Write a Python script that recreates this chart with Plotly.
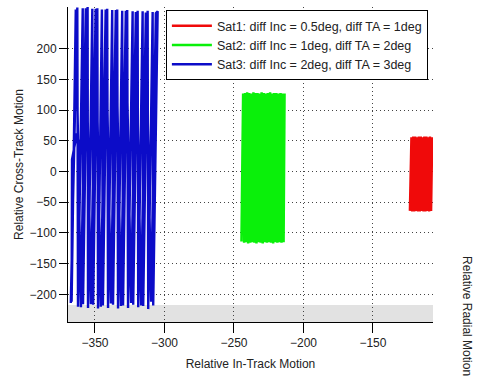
import plotly.graph_objects as go

# ---------------- data ----------------
x_ticks = [-350, -300, -250, -200, -150]
y_ticks = [-200, -150, -100, -50, 0, 50, 100, 150, 200]

names = ["Sat1: diff Inc = 0.5deg, diff TA = 1deg",
         "Sat2: diff Inc = 1deg, diff TA = 2deg",
         "Sat3: diff Inc = 2deg, diff TA = 3deg"]
colors = ["#f00a0a", "#0af00a", "#0c0cc8"]

# Sat3 (blue): sweep (trough -> peak)
blue_trough_x = [-367.4, -362.2, -358.6, -355.0, -351.3, -347.8, -344.3, -340.6, -337.0, -333.4, -329.8, -326.2, -322.5, -318.9, -315.3, -311.7, -308.1]
blue_trough_y = [-214, -220, -216, -222, -217, -223, -218, -222, -217, -223, -218, -222, -217, -221, -219, -224, -218]
blue_peak_x = [-362.7, -358.8, -355.3, -351.9, -348.3, -345.0, -341.2, -337.6, -334.0, -330.4, -326.8, -322.9, -319.3, -315.7, -312.1, -308.5, -304.9]
blue_peak_y = [267, 266, 268, 265, 266, 264, 265, 263, 264, 262, 263, 261, 262, 261, 262, 260, 261]

# return leg (right -> left)
blue_ret_peak_x = [-306.2, -313.4, -320.6, -327.8, -335.0, -342.3, -349.5, -356.6, -363.8]
blue_ret_peak_y = [258, 259, 260, 262, 263, 264, 265, 266, 264]
blue_ret_trough_x = [-309.6, -316.8, -324.0, -331.3, -338.5, -345.8, -352.9, -360.1, -366.8]
blue_ret_trough_y = [-212, -218, -214, -219, -215, -220, -216, -221, -212]

# small-amplitude knot near y ~ 20..65 (left -> right)
blue_knot_x = [-366.5, -363.0, -360.0, -357.2, -354.0, -350.5, -347.0, -343.6, -340.2, -336.8, -333.2, -329.8]
blue_knot_y = [20, 62, 28, 58, 32, 60, 34, 56, 36, 58, 34, 52]

# Sat2 (green)
green_peak_x = [-243.4, -242.0, -240.5, -239.1, -237.6, -236.0, -234.6, -233.1, -231.5, -230.1, -228.6, -227.1, -225.6, -224.0, -222.6, -221.1, -219.6, -218.1, -216.5, -215.1, -213.6]
green_peak_y = [127, 128, 129, 128, 127, 129, 128, 128, 127, 129, 128, 127, 128, 129, 127, 128, 128, 127, 128, 127, 127]
green_trough_x = [-244.6, -242.7, -241.3, -239.8, -238.3, -236.8, -235.3, -233.8, -232.3, -230.8, -229.3, -227.8, -226.3, -224.8, -223.3, -221.8, -220.3, -218.8, -217.3, -215.8, -214.3]
green_trough_y = [-114, -116, -115, -117, -116, -115, -116, -117, -115, -116, -117, -115, -116, -115, -116, -117, -115, -116, -115, -116, -115]

# Sat1 (red)
red_peak_x = [-122.3, -121.0, -119.6, -118.3, -117.0, -115.6, -114.3, -113.0, -111.6, -110.3, -109.0, -107.4]
red_peak_y = [56, 57, 57, 56, 57, 57, 56, 57, 57, 56, 57, 56]
red_trough_x = [-123.4, -121.7, -120.3, -119.0, -117.6, -116.3, -115.0, -113.6, -112.3, -111.0, -109.6, -108.2]
red_trough_y = [-64, -65, -65, -64, -65, -65, -64, -65, -65, -64, -65, -64]


def interleave(ax, ay, bx, by):
    xs, ys = [], []
    for a1, a2, b1, b2 in zip(ax, ay, bx, by):
        xs += [a1, b1]
        ys += [a2, b2]
    return xs, ys


bx1, by1 = interleave(blue_trough_x, blue_trough_y, blue_peak_x, blue_peak_y)
bx2, by2 = interleave(blue_ret_peak_x, blue_ret_peak_y, blue_ret_trough_x, blue_ret_trough_y)
blue_x = bx1 + bx2 + blue_knot_x
blue_y = by1 + by2 + blue_knot_y

gx, gy = interleave(green_trough_x, green_trough_y, green_peak_x, green_peak_y)
rx, ry = interleave(red_trough_x, red_trough_y, red_peak_x, red_peak_y)

# ---------------- figure ----------------
fig = go.Figure()
fig.add_trace(go.Scatter(x=rx, y=ry, mode="lines", name=names[0],
                         line=dict(color=colors[0], width=2.5)))
fig.add_trace(go.Scatter(x=gx, y=gy, mode="lines", name=names[1],
                         line=dict(color=colors[1], width=2.5)))
fig.add_trace(go.Scatter(x=blue_x, y=blue_y, mode="lines", name=names[2],
                         line=dict(color=colors[2], width=2.4)))

font = "Liberation Sans, Arial, sans-serif"
grid = dict(showgrid=True, gridcolor="#444444", griddash="1px,3px", gridwidth=1)
fig.update_layout(
    width=478, height=381,
    margin=dict(l=68, r=45, t=7, b=59),
    paper_bgcolor="white", plot_bgcolor="white",
    font=dict(family=font, size=12, color="#222222"),
    showlegend=True,
    legend=dict(x=0.986, y=0.990, xanchor="right", yanchor="top",
                bgcolor="white", bordercolor="black", borderwidth=1,
                font=dict(size=12.5, color="#222222"),
                itemwidth=40, tracegroupgap=0),
    xaxis=dict(range=[-369.4, -106.8], tickvals=x_ticks, **grid,
               showline=True, linecolor="black", linewidth=1,
               ticks="outside", ticklen=10, tickcolor="black",
               zeroline=False,
               title=dict(text="Relative In-Track Motion", standoff=10,
                          font=dict(size=12))),
    yaxis=dict(range=[-245, 268], tickvals=y_ticks, **grid,
               showline=True, linecolor="black", linewidth=1,
               ticks="outside", ticklen=8, tickcolor="black",
               zeroline=False,
               title=dict(text="Relative Cross-Track Motion", standoff=3,
                          font=dict(size=12))),
    shapes=[dict(type="rect", xref="paper", yref="paper", x0=0, x1=1,
                 y0=0, y1=0.054, fillcolor="#e2e2e2", line=dict(width=0),
                 layer="below")],
    annotations=[dict(text="Relative Radial Motion", xref="paper", yref="paper",
                      x=1.093, y=0.019, xanchor="center", yanchor="middle",
                      textangle=90, showarrow=False,
                      font=dict(size=12, color="#222222"))],
)

fig.write_html("out.html")
